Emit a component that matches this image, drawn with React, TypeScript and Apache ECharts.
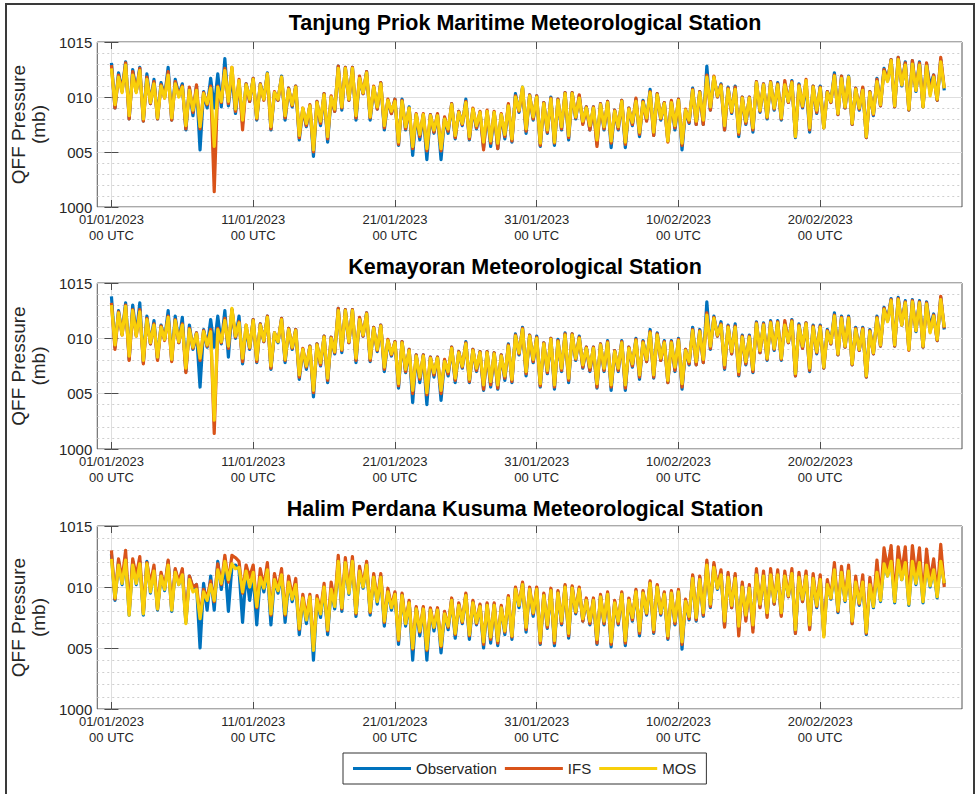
import React, { useEffect, useRef } from "react";
import * as echarts from "echarts";

// ---- data (6-hourly, starting 01/01/2023 00 UTC; 4 values per day) ----
const START_UTC = Date.UTC(2023, 0, 1);
const STEP_DAYS = 0.25;
const TICK_DAYS = [0, 10, 20, 30, 40, 50];
const Y_TICK_LABELS: Record<number, string> = { 1015: "1015", 1010: "010", 1005: "005", 1000: "1000" };
const STATIONS = [
  "Tanjung Priok Maritime Meteorological Station",
  "Kemayoran Meteorological Station",
  "Halim Perdana Kusuma Meteorological Station",
];
const SERIES_NAMES = ["Observation", "IFS", "MOS"];
const COLORS = ["#0072BD", "#D95319", "#F8CF0A"];

const tpObs = [
  1013.1, 1009.0, 1012.2, 1010.6, 1013.2, 1008.0, 1012.5, 1010.5,
  1012.7, 1007.8, 1012.1, 1009.4, 1011.6, 1008.0, 1011.3, 1010.0,
  1012.7, 1007.9, 1011.6, 1010.2, 1011.2, 1007.0, 1010.8, 1008.3,
  1011.0, 1005.2, 1010.5, 1009.0, 1011.7, 1009.0, 1012.1, 1009.1,
  1013.5, 1009.2, 1012.0, 1008.5, 1011.4, 1007.6, 1011.2, 1009.6,
  1011.7, 1007.9, 1011.2, 1009.8, 1012.2, 1007.0, 1010.4, 1009.7,
  1011.9, 1007.9, 1010.8, 1009.1, 1011.0, 1006.1, 1008.9, 1007.3,
  1009.2, 1004.6, 1009.6, 1007.4, 1010.3, 1005.9, 1010.0, 1008.7,
  1012.8, 1008.8, 1012.7, 1009.7, 1012.7, 1007.9, 1011.7, 1010.3,
  1012.3, 1007.9, 1010.9, 1008.9, 1011.3, 1007.0, 1009.7, 1008.5,
  1009.8, 1005.6, 1009.8, 1007.0, 1009.1, 1004.7, 1008.4, 1006.1,
  1008.4, 1004.3, 1008.4, 1006.7, 1008.4, 1004.3, 1008.1, 1006.7,
  1009.4, 1006.2, 1008.7, 1007.4, 1009.8, 1006.1, 1008.9, 1007.1,
  1008.6, 1005.4, 1008.7, 1005.5, 1008.6, 1005.3, 1008.4, 1006.2,
  1009.3, 1005.9, 1010.3, 1008.6, 1010.9, 1006.7, 1010.2, 1007.9,
  1010.1, 1005.5, 1009.5, 1006.7, 1010.0, 1005.6, 1009.8, 1007.0,
  1010.4, 1006.1, 1010.4, 1008.0, 1010.1, 1007.6, 1009.1, 1007.0,
  1009.1, 1005.7, 1009.4, 1007.0, 1009.6, 1005.4, 1008.8, 1007.0,
  1009.7, 1005.4, 1009.0, 1007.4, 1009.8, 1006.4, 1009.7, 1007.9,
  1010.7, 1006.5, 1010.3, 1007.9, 1009.5, 1006.0, 1009.6, 1007.0,
  1009.8, 1005.2, 1008.8, 1007.6, 1010.8, 1007.5, 1010.5, 1007.5,
  1012.8, 1008.8, 1011.8, 1010.0, 1011.2, 1007.0, 1010.9, 1008.5,
  1011.0, 1006.4, 1010.0, 1007.5, 1010.0, 1006.8, 1011.4, 1008.6,
  1011.2, 1008.0, 1011.4, 1008.8, 1011.3, 1007.9, 1011.2, 1009.5,
  1011.5, 1006.3, 1011.2, 1009.0, 1011.2, 1006.8, 1011.0, 1008.5,
  1011.0, 1007.2, 1010.5, 1009.5, 1012.2, 1008.4, 1011.9, 1009.0,
  1011.9, 1007.5, 1010.8, 1008.8, 1010.8, 1006.3, 1010.5, 1008.3,
  1011.7, 1009.2, 1012.6, 1011.5, 1013.4, 1009.1, 1013.6, 1011.0,
  1013.2, 1008.8, 1013.3, 1010.5, 1013.2, 1009.1, 1013.0, 1011.0,
  1012.0, 1009.7, 1013.4, 1010.6,
];
const tpIfs = [
  1012.9, 1009.0, 1012.0, 1010.5, 1013.1, 1008.0, 1012.3, 1010.5,
  1012.6, 1007.8, 1011.8, 1009.4, 1011.4, 1008.0, 1011.1, 1009.9,
  1012.3, 1007.9, 1011.4, 1010.1, 1011.0, 1007.1, 1010.9, 1008.6,
  1011.1, 1007.1, 1010.4, 1009.3, 1011.0, 1001.4, 1011.0, 1009.5,
  1012.6, 1009.4, 1012.7, 1008.7, 1011.6, 1007.0, 1011.2, 1009.6,
  1011.7, 1008.0, 1011.2, 1009.7, 1012.1, 1007.1, 1010.5, 1009.7,
  1011.8, 1008.1, 1010.8, 1009.2, 1011.0, 1006.3, 1009.0, 1007.4,
  1009.3, 1005.0, 1009.6, 1007.6, 1010.3, 1006.2, 1010.1, 1008.7,
  1012.8, 1009.0, 1012.7, 1009.7, 1012.7, 1008.1, 1011.9, 1010.3,
  1012.3, 1008.1, 1011.0, 1008.9, 1011.3, 1007.2, 1009.8, 1008.5,
  1009.8, 1005.7, 1009.7, 1007.1, 1009.0, 1005.3, 1008.5, 1006.4,
  1008.5, 1005.1, 1008.4, 1006.8, 1008.5, 1005.1, 1008.2, 1006.9,
  1009.4, 1006.3, 1008.7, 1007.5, 1009.6, 1006.2, 1009.0, 1007.2,
  1008.7, 1005.2, 1008.8, 1005.8, 1008.7, 1005.3, 1008.5, 1006.4,
  1009.4, 1006.0, 1010.1, 1008.7, 1010.8, 1006.9, 1010.2, 1008.0,
  1010.1, 1005.6, 1009.5, 1006.8, 1009.9, 1005.8, 1009.8, 1007.1,
  1010.4, 1006.3, 1010.4, 1008.1, 1010.2, 1007.5, 1009.1, 1007.0,
  1009.1, 1005.5, 1009.4, 1007.1, 1009.6, 1005.8, 1008.8, 1007.1,
  1009.7, 1005.7, 1009.0, 1007.5, 1009.9, 1006.6, 1009.6, 1007.8,
  1010.5, 1006.5, 1010.3, 1008.0, 1009.5, 1005.9, 1009.7, 1007.2,
  1009.8, 1005.6, 1008.9, 1007.7, 1010.7, 1007.5, 1010.5, 1007.5,
  1012.0, 1008.8, 1011.9, 1010.0, 1011.1, 1007.0, 1010.8, 1008.6,
  1010.9, 1006.6, 1010.0, 1007.6, 1010.0, 1007.0, 1011.4, 1008.7,
  1011.2, 1008.1, 1011.4, 1008.9, 1011.2, 1008.0, 1011.5, 1009.5,
  1011.4, 1006.4, 1011.1, 1009.1, 1011.6, 1007.0, 1011.0, 1008.6,
  1010.9, 1007.2, 1010.5, 1009.5, 1012.0, 1008.4, 1011.9, 1009.0,
  1011.8, 1007.5, 1010.8, 1008.9, 1010.9, 1006.3, 1010.5, 1008.4,
  1011.6, 1009.2, 1012.5, 1011.5, 1013.4, 1009.1, 1013.6, 1011.1,
  1013.1, 1008.8, 1013.3, 1010.6, 1013.1, 1009.1, 1013.1, 1010.3,
  1012.0, 1009.7, 1013.6, 1010.8,
];
const tpMos = [
  1012.6, 1009.3, 1011.8, 1010.4, 1012.9, 1008.3, 1012.0, 1010.4,
  1012.4, 1008.0, 1011.6, 1009.5, 1011.2, 1008.1, 1011.0, 1009.9,
  1012.0, 1008.1, 1011.2, 1010.0, 1010.9, 1007.4, 1010.6, 1008.8,
  1010.6, 1007.3, 1010.3, 1009.4, 1010.8, 1005.5, 1010.9, 1009.6,
  1012.4, 1009.6, 1012.7, 1008.9, 1011.5, 1007.9, 1011.1, 1009.8,
  1011.6, 1008.1, 1011.1, 1009.8, 1012.1, 1007.3, 1010.4, 1009.8,
  1011.8, 1008.3, 1010.7, 1009.3, 1010.9, 1006.5, 1009.0, 1007.6,
  1009.2, 1005.2, 1009.5, 1007.8, 1010.2, 1006.4, 1010.0, 1008.9,
  1012.6, 1009.1, 1012.6, 1009.8, 1012.6, 1008.3, 1011.7, 1010.4,
  1012.2, 1008.2, 1010.9, 1009.1, 1011.2, 1007.4, 1009.7, 1008.7,
  1009.6, 1005.9, 1009.6, 1007.3, 1009.0, 1005.5, 1008.4, 1006.6,
  1008.4, 1005.3, 1008.3, 1007.0, 1008.3, 1005.3, 1008.0, 1007.1,
  1009.3, 1006.5, 1008.6, 1007.6, 1009.5, 1006.4, 1008.9, 1007.4,
  1008.6, 1005.9, 1008.7, 1006.0, 1008.6, 1005.8, 1008.4, 1006.6,
  1009.2, 1006.2, 1010.0, 1008.8, 1010.9, 1007.1, 1010.1, 1008.2,
  1010.0, 1005.8, 1009.4, 1007.0, 1009.8, 1005.9, 1009.7, 1007.3,
  1010.3, 1006.5, 1010.3, 1008.2, 1009.9, 1007.8, 1009.0, 1007.4,
  1009.0, 1006.1, 1009.3, 1007.3, 1009.5, 1006.0, 1008.7, 1007.3,
  1009.6, 1005.9, 1008.9, 1007.7, 1009.6, 1006.8, 1009.5, 1008.1,
  1010.4, 1006.8, 1010.2, 1008.1, 1009.4, 1006.0, 1009.5, 1007.4,
  1009.7, 1005.8, 1008.8, 1007.9, 1010.6, 1007.8, 1010.4, 1007.9,
  1011.8, 1009.1, 1011.8, 1010.1, 1011.0, 1007.4, 1010.7, 1008.7,
  1010.7, 1006.8, 1009.9, 1007.8, 1009.9, 1007.2, 1011.3, 1008.8,
  1011.1, 1008.2, 1011.3, 1009.0, 1011.1, 1008.1, 1011.1, 1009.6,
  1011.3, 1006.4, 1011.0, 1009.2, 1011.5, 1007.2, 1010.9, 1008.8,
  1010.8, 1007.2, 1010.4, 1009.6, 1011.9, 1008.5, 1011.7, 1009.1,
  1011.8, 1007.6, 1010.7, 1009.0, 1010.6, 1006.4, 1010.4, 1008.5,
  1011.4, 1009.3, 1012.3, 1011.4, 1013.3, 1009.2, 1013.4, 1011.1,
  1012.9, 1008.9, 1013.0, 1010.6, 1012.9, 1009.1, 1012.8, 1010.1,
  1011.8, 1009.8, 1013.2, 1010.8,
];

const kmObs = [
  1013.8, 1009.2, 1012.5, 1010.4, 1013.2, 1008.1, 1013.0, 1010.3,
  1013.2, 1007.8, 1012.0, 1009.5, 1011.6, 1008.1, 1011.2, 1009.9,
  1012.5, 1008.0, 1012.0, 1009.6, 1011.9, 1007.0, 1011.2, 1009.0,
  1010.5, 1005.6, 1010.8, 1009.2, 1011.7, 1009.2, 1012.0, 1009.5,
  1012.5, 1008.3, 1012.6, 1010.0, 1012.0, 1007.7, 1011.0, 1009.0,
  1011.7, 1007.8, 1011.3, 1009.7, 1012.0, 1007.2, 1010.5, 1009.6,
  1011.8, 1007.8, 1010.9, 1009.0, 1010.8, 1006.3, 1009.0, 1007.2,
  1009.3, 1004.7, 1009.5, 1007.5, 1010.2, 1006.0, 1010.1, 1008.6,
  1012.7, 1008.7, 1012.6, 1009.6, 1012.6, 1007.8, 1011.8, 1010.2,
  1012.3, 1007.9, 1011.0, 1008.8, 1011.2, 1007.0, 1009.8, 1008.4,
  1009.7, 1005.5, 1009.7, 1006.9, 1009.0, 1004.2, 1008.5, 1006.0,
  1008.5, 1004.0, 1008.3, 1006.5, 1008.3, 1004.4, 1008.0, 1006.6,
  1009.2, 1006.0, 1008.8, 1007.3, 1009.7, 1006.0, 1009.0, 1007.0,
  1008.8, 1005.3, 1008.8, 1005.6, 1008.7, 1005.4, 1008.5, 1006.2,
  1009.5, 1006.0, 1010.4, 1008.5, 1011.0, 1006.6, 1010.3, 1007.8,
  1010.2, 1005.6, 1009.6, 1006.8, 1010.0, 1005.4, 1009.9, 1007.0,
  1010.5, 1006.0, 1010.4, 1008.0, 1010.2, 1007.3, 1009.2, 1007.0,
  1009.2, 1005.5, 1009.5, 1007.0, 1009.8, 1005.3, 1008.9, 1007.0,
  1009.8, 1005.3, 1009.2, 1007.4, 1010.0, 1006.3, 1009.8, 1007.9,
  1010.8, 1006.4, 1010.5, 1008.0, 1009.8, 1006.0, 1009.8, 1007.0,
  1010.0, 1005.4, 1009.0, 1007.6, 1011.0, 1007.6, 1010.8, 1007.8,
  1013.3, 1009.0, 1012.0, 1010.2, 1011.5, 1007.2, 1011.2, 1008.6,
  1011.3, 1006.6, 1010.3, 1007.6, 1010.3, 1006.9, 1011.5, 1008.7,
  1011.4, 1008.0, 1011.6, 1008.9, 1011.6, 1008.0, 1011.4, 1009.6,
  1011.7, 1006.6, 1011.3, 1009.1, 1011.4, 1007.0, 1011.2, 1008.6,
  1011.2, 1007.3, 1010.8, 1009.5, 1012.3, 1008.5, 1012.0, 1009.2,
  1012.0, 1007.6, 1011.0, 1008.9, 1011.0, 1006.5, 1010.8, 1008.6,
  1012.0, 1009.3, 1012.8, 1011.6, 1013.6, 1009.3, 1013.7, 1011.2,
  1013.4, 1009.0, 1013.5, 1010.6, 1013.4, 1009.2, 1013.3, 1011.0,
  1012.2, 1009.8, 1013.7, 1010.8,
];
const kmIfs = [
  1013.2, 1009.0, 1012.4, 1010.3, 1013.0, 1008.0, 1012.6, 1010.2,
  1012.6, 1007.7, 1011.8, 1009.5, 1011.3, 1008.0, 1011.1, 1009.8,
  1012.0, 1007.9, 1011.7, 1009.6, 1011.3, 1006.9, 1010.9, 1009.1,
  1010.5, 1008.0, 1010.7, 1009.3, 1010.8, 1001.4, 1010.9, 1009.6,
  1011.8, 1009.1, 1012.6, 1010.1, 1011.5, 1007.9, 1011.2, 1009.1,
  1011.7, 1007.9, 1011.3, 1009.7, 1012.0, 1007.3, 1010.5, 1009.7,
  1011.8, 1008.0, 1010.9, 1009.1, 1010.8, 1006.5, 1009.1, 1007.4,
  1009.3, 1005.1, 1009.5, 1007.6, 1010.2, 1006.2, 1010.1, 1008.7,
  1012.7, 1008.9, 1012.6, 1009.6, 1012.6, 1008.0, 1011.9, 1010.2,
  1012.3, 1008.0, 1011.0, 1008.9, 1011.2, 1007.2, 1009.9, 1008.5,
  1009.7, 1005.7, 1009.7, 1007.0, 1009.0, 1005.0, 1008.5, 1006.3,
  1008.5, 1004.9, 1008.3, 1006.7, 1008.3, 1005.0, 1008.1, 1006.8,
  1009.2, 1006.2, 1008.8, 1007.4, 1009.6, 1006.1, 1009.0, 1007.1,
  1008.8, 1005.4, 1008.8, 1005.8, 1008.7, 1005.5, 1008.5, 1006.4,
  1009.4, 1006.1, 1010.3, 1008.6, 1010.9, 1006.8, 1010.3, 1007.9,
  1010.1, 1005.7, 1009.6, 1006.9, 1010.0, 1005.6, 1009.8, 1007.1,
  1010.4, 1006.2, 1010.4, 1008.1, 1010.1, 1007.4, 1009.2, 1007.1,
  1009.2, 1005.6, 1009.5, 1007.1, 1009.7, 1005.6, 1008.9, 1007.1,
  1009.7, 1005.5, 1009.2, 1007.5, 1009.9, 1006.5, 1009.7, 1007.9,
  1010.6, 1006.5, 1010.4, 1008.0, 1009.7, 1006.0, 1009.7, 1007.1,
  1009.9, 1005.6, 1009.0, 1007.7, 1010.8, 1007.6, 1010.7, 1007.8,
  1012.3, 1009.1, 1011.9, 1010.2, 1011.3, 1007.3, 1011.1, 1008.6,
  1011.1, 1006.7, 1010.2, 1007.7, 1010.2, 1007.0, 1011.4, 1008.7,
  1011.3, 1008.1, 1011.5, 1009.0, 1011.5, 1008.1, 1011.6, 1009.6,
  1011.6, 1006.6, 1011.2, 1009.1, 1011.4, 1007.1, 1011.1, 1008.7,
  1011.1, 1007.3, 1010.7, 1009.5, 1012.1, 1008.5, 1011.9, 1009.2,
  1011.9, 1007.6, 1010.9, 1008.9, 1010.9, 1006.5, 1010.7, 1008.6,
  1011.9, 1009.3, 1012.7, 1011.6, 1013.5, 1009.3, 1013.6, 1011.2,
  1013.3, 1008.9, 1013.4, 1010.7, 1013.3, 1009.2, 1013.2, 1010.6,
  1012.1, 1009.8, 1013.8, 1010.9,
];
const kmMos = [
  1013.0, 1009.4, 1012.3, 1010.3, 1012.9, 1008.4, 1012.5, 1010.2,
  1012.4, 1008.0, 1011.7, 1009.6, 1011.2, 1008.3, 1011.0, 1009.9,
  1011.9, 1008.1, 1011.6, 1009.7, 1011.2, 1007.3, 1010.8, 1009.2,
  1010.4, 1008.2, 1010.6, 1009.4, 1010.6, 1002.6, 1010.8, 1009.7,
  1011.6, 1009.3, 1012.7, 1010.2, 1011.4, 1008.2, 1011.2, 1009.2,
  1011.6, 1008.1, 1011.2, 1009.8, 1011.9, 1007.5, 1010.5, 1009.7,
  1011.7, 1008.1, 1010.8, 1009.2, 1010.7, 1006.7, 1009.0, 1007.5,
  1009.2, 1005.3, 1009.4, 1007.8, 1010.1, 1006.4, 1010.0, 1008.8,
  1012.5, 1009.0, 1012.5, 1009.7, 1012.5, 1008.2, 1011.7, 1010.3,
  1012.2, 1008.2, 1010.9, 1009.0, 1011.1, 1007.4, 1009.8, 1008.6,
  1009.6, 1005.9, 1009.6, 1007.2, 1008.9, 1005.3, 1008.4, 1006.5,
  1008.4, 1005.1, 1008.2, 1006.9, 1008.2, 1005.3, 1007.9, 1007.0,
  1009.1, 1006.4, 1008.7, 1007.5, 1009.5, 1006.3, 1008.9, 1007.3,
  1008.7, 1005.8, 1008.7, 1006.1, 1008.6, 1005.8, 1008.4, 1006.6,
  1009.3, 1006.3, 1010.2, 1008.7, 1010.8, 1007.0, 1010.2, 1008.1,
  1010.0, 1005.9, 1009.5, 1007.1, 1009.9, 1005.8, 1009.7, 1007.3,
  1010.3, 1006.4, 1010.3, 1008.2, 1010.0, 1007.6, 1009.1, 1007.4,
  1009.1, 1005.9, 1009.4, 1007.3, 1009.6, 1005.8, 1008.8, 1007.3,
  1009.6, 1005.8, 1009.1, 1007.7, 1009.8, 1006.7, 1009.6, 1008.1,
  1010.5, 1006.7, 1010.3, 1008.2, 1009.6, 1006.2, 1009.6, 1007.4,
  1009.8, 1005.9, 1008.9, 1007.9, 1010.7, 1007.9, 1010.6, 1008.1,
  1012.1, 1009.3, 1011.8, 1010.3, 1011.2, 1007.6, 1011.0, 1008.8,
  1011.0, 1007.0, 1010.1, 1007.9, 1010.1, 1007.2, 1011.3, 1008.9,
  1011.2, 1008.2, 1011.4, 1009.1, 1011.4, 1008.2, 1011.2, 1009.7,
  1011.5, 1006.8, 1011.1, 1009.3, 1011.3, 1007.3, 1011.0, 1008.8,
  1011.0, 1007.4, 1010.6, 1009.6, 1012.0, 1008.6, 1011.8, 1009.3,
  1011.8, 1007.7, 1010.8, 1009.0, 1010.8, 1006.6, 1010.6, 1008.7,
  1011.8, 1009.4, 1012.6, 1011.5, 1013.4, 1009.4, 1013.5, 1011.2,
  1013.2, 1009.0, 1013.3, 1010.7, 1013.2, 1009.3, 1013.1, 1010.5,
  1012.0, 1009.9, 1013.5, 1011.0,
];

const hpObs = [
  1012.7, 1008.9, 1012.1, 1010.2, 1012.4, 1007.7, 1012.1, 1010.2,
  1012.1, 1007.7, 1012.1, 1009.5, 1011.5, 1008.1, 1011.0, 1009.7,
  1012.1, 1008.0, 1011.4, 1010.2, 1011.3, 1007.1, 1010.9, 1009.9,
  1010.2, 1005.0, 1010.3, 1008.1, 1010.9, 1008.1, 1012.1, 1009.8,
  1012.0, 1008.0, 1011.7, 1011.8, 1011.4, 1007.1, 1011.2, 1008.9,
  1011.0, 1006.9, 1010.8, 1009.6, 1011.4, 1006.9, 1010.6, 1009.5,
  1011.0, 1007.1, 1010.4, 1008.8, 1010.2, 1006.1, 1009.1, 1007.0,
  1009.2, 1004.0, 1009.0, 1007.5, 1010.0, 1006.1, 1009.8, 1008.2,
  1012.2, 1008.0, 1012.0, 1009.4, 1012.2, 1007.6, 1011.4, 1009.9,
  1011.9, 1007.7, 1010.9, 1008.6, 1010.9, 1006.8, 1009.7, 1008.1,
  1009.5, 1005.3, 1009.4, 1006.8, 1008.8, 1004.0, 1008.3, 1006.0,
  1008.3, 1004.0, 1008.2, 1006.4, 1008.2, 1004.6, 1007.9, 1006.5,
  1009.0, 1005.8, 1008.6, 1007.0, 1009.4, 1005.7, 1008.8, 1006.9,
  1008.5, 1005.0, 1008.6, 1005.4, 1008.6, 1005.2, 1008.4, 1006.1,
  1009.2, 1005.7, 1009.9, 1008.3, 1010.3, 1006.3, 1009.9, 1007.6,
  1009.9, 1005.3, 1009.4, 1006.6, 1009.8, 1005.2, 1009.6, 1006.9,
  1010.1, 1005.8, 1010.0, 1007.8, 1009.9, 1007.2, 1009.0, 1006.9,
  1009.0, 1005.3, 1009.3, 1006.9, 1009.5, 1005.1, 1008.8, 1006.9,
  1009.5, 1005.2, 1009.0, 1007.2, 1009.7, 1006.0, 1009.6, 1007.7,
  1010.4, 1006.2, 1010.1, 1007.7, 1009.5, 1005.7, 1009.6, 1006.9,
  1009.7, 1004.9, 1008.9, 1007.3, 1010.9, 1007.2, 1010.8, 1007.6,
  1012.0, 1008.3, 1011.8, 1009.8, 1011.2, 1006.8, 1011.0, 1008.3,
  1010.9, 1006.4, 1010.2, 1007.4, 1010.0, 1006.6, 1011.2, 1008.4,
  1011.0, 1007.7, 1011.2, 1008.6, 1011.1, 1007.7, 1011.0, 1009.2,
  1011.2, 1006.2, 1010.9, 1008.8, 1011.0, 1006.6, 1010.8, 1008.3,
  1010.7, 1006.1, 1010.3, 1009.0, 1011.6, 1007.9, 1011.3, 1008.8,
  1011.4, 1007.0, 1010.5, 1008.5, 1010.5, 1006.1, 1010.3, 1008.3,
  1011.3, 1008.8, 1012.0, 1010.9, 1012.3, 1008.7, 1012.4, 1010.6,
  1012.2, 1008.5, 1012.3, 1010.2, 1012.2, 1008.7, 1012.0, 1010.0,
  1011.5, 1009.1, 1012.4, 1010.2,
];
const hpIfs = [
  1013.0, 1009.0, 1012.3, 1010.6, 1013.0, 1008.0, 1012.3, 1010.9,
  1012.5, 1007.9, 1012.0, 1010.2, 1011.8, 1008.2, 1011.2, 1009.9,
  1012.2, 1008.2, 1011.5, 1010.4, 1011.5, 1007.3, 1010.9, 1010.0,
  1010.2, 1007.6, 1009.8, 1009.1, 1010.5, 1008.8, 1011.9, 1010.2,
  1012.6, 1010.4, 1012.6, 1012.4, 1012.1, 1009.5, 1011.8, 1010.8,
  1011.8, 1008.3, 1011.5, 1010.0, 1012.0, 1007.7, 1011.1, 1009.8,
  1011.5, 1007.7, 1010.9, 1009.2, 1010.7, 1006.5, 1009.4, 1007.5,
  1009.4, 1005.0, 1009.3, 1008.0, 1010.3, 1006.4, 1010.4, 1008.6,
  1012.6, 1008.2, 1012.4, 1009.7, 1012.5, 1007.8, 1011.7, 1010.1,
  1012.1, 1007.9, 1011.1, 1008.9, 1011.1, 1007.1, 1009.9, 1008.4,
  1009.6, 1005.6, 1009.5, 1007.0, 1008.9, 1004.9, 1008.4, 1006.3,
  1008.4, 1004.8, 1008.3, 1006.7, 1008.3, 1005.1, 1008.0, 1006.7,
  1009.1, 1006.1, 1008.7, 1007.1, 1009.5, 1006.0, 1008.9, 1007.0,
  1008.6, 1005.3, 1008.7, 1005.7, 1008.7, 1005.4, 1008.5, 1006.3,
  1009.3, 1005.9, 1010.0, 1008.5, 1010.4, 1006.5, 1010.0, 1007.8,
  1010.0, 1005.4, 1009.5, 1006.7, 1009.9, 1005.4, 1009.7, 1007.0,
  1010.2, 1006.0, 1010.1, 1007.9, 1010.0, 1007.2, 1009.1, 1007.0,
  1009.1, 1005.4, 1009.4, 1007.0, 1009.6, 1005.3, 1008.9, 1007.0,
  1009.6, 1005.4, 1009.1, 1007.3, 1009.8, 1006.2, 1009.7, 1007.8,
  1010.5, 1006.3, 1010.2, 1007.8, 1009.6, 1005.8, 1009.7, 1007.0,
  1009.8, 1005.3, 1009.0, 1007.4, 1011.0, 1007.3, 1010.9, 1007.7,
  1012.2, 1008.4, 1012.0, 1009.9, 1011.4, 1006.7, 1011.2, 1008.3,
  1011.1, 1006.0, 1010.4, 1007.2, 1010.2, 1006.3, 1011.5, 1008.3,
  1011.3, 1007.5, 1011.5, 1008.6, 1011.4, 1007.6, 1011.3, 1009.2,
  1011.5, 1006.2, 1011.2, 1008.8, 1011.3, 1006.5, 1011.1, 1008.4,
  1011.0, 1006.0, 1010.6, 1009.1, 1012.0, 1008.0, 1011.7, 1008.9,
  1011.8, 1007.0, 1010.9, 1008.6, 1011.0, 1006.2, 1010.8, 1008.5,
  1012.2, 1009.0, 1013.2, 1011.5, 1013.4, 1009.0, 1013.3, 1011.2,
  1013.3, 1008.8, 1013.4, 1010.8, 1013.2, 1009.0, 1013.1, 1010.5,
  1012.3, 1009.4, 1013.5, 1010.0,
];
const hpMos = [
  1012.3, 1009.1, 1011.8, 1010.3, 1012.2, 1007.7, 1011.8, 1010.3,
  1011.9, 1007.8, 1011.9, 1009.6, 1011.3, 1008.2, 1010.9, 1009.8,
  1011.8, 1008.1, 1011.2, 1010.2, 1011.0, 1007.0, 1010.6, 1009.6,
  1009.8, 1007.4, 1009.6, 1008.9, 1010.2, 1008.9, 1011.4, 1010.3,
  1012.1, 1010.6, 1011.9, 1011.5, 1011.6, 1009.6, 1011.3, 1010.0,
  1011.2, 1008.4, 1010.8, 1009.9, 1011.4, 1007.8, 1010.6, 1009.7,
  1011.0, 1007.8, 1010.4, 1009.0, 1010.2, 1006.6, 1009.1, 1007.3,
  1009.2, 1004.8, 1009.0, 1007.8, 1010.0, 1006.5, 1009.8, 1008.4,
  1012.1, 1008.3, 1012.0, 1009.5, 1012.1, 1007.9, 1011.3, 1010.0,
  1011.8, 1008.0, 1010.8, 1008.8, 1010.8, 1007.2, 1009.6, 1008.3,
  1009.4, 1005.7, 1009.3, 1007.0, 1008.7, 1005.0, 1008.2, 1006.4,
  1008.2, 1004.9, 1008.1, 1006.7, 1008.1, 1005.2, 1007.8, 1006.8,
  1008.9, 1006.2, 1008.5, 1007.2, 1009.3, 1006.1, 1008.7, 1007.1,
  1008.4, 1005.5, 1008.5, 1005.9, 1008.5, 1005.6, 1008.3, 1006.4,
  1009.1, 1006.0, 1009.8, 1008.5, 1010.2, 1006.7, 1009.8, 1007.9,
  1009.8, 1005.6, 1009.3, 1006.9, 1009.7, 1005.6, 1009.5, 1007.2,
  1010.0, 1006.2, 1009.9, 1008.0, 1009.8, 1007.4, 1008.9, 1007.2,
  1008.9, 1005.7, 1009.2, 1007.2, 1009.4, 1005.5, 1008.7, 1007.2,
  1009.4, 1005.6, 1008.9, 1007.5, 1009.6, 1006.4, 1009.5, 1007.9,
  1010.3, 1006.5, 1010.0, 1007.9, 1009.4, 1006.0, 1009.5, 1007.2,
  1009.6, 1005.5, 1008.8, 1007.6, 1010.7, 1007.5, 1010.6, 1007.9,
  1011.8, 1008.6, 1011.6, 1009.9, 1011.0, 1007.2, 1010.8, 1008.5,
  1010.7, 1006.8, 1010.0, 1007.7, 1009.9, 1006.9, 1011.0, 1008.6,
  1010.9, 1007.9, 1011.0, 1008.8, 1011.0, 1007.9, 1010.9, 1009.3,
  1011.1, 1006.5, 1010.8, 1009.0, 1010.9, 1006.9, 1010.7, 1008.5,
  1010.6, 1005.9, 1010.2, 1009.1, 1011.4, 1008.1, 1011.2, 1008.9,
  1011.3, 1007.2, 1010.4, 1008.7, 1010.4, 1006.3, 1010.2, 1008.4,
  1011.2, 1008.9, 1011.9, 1010.9, 1012.1, 1008.8, 1012.2, 1010.6,
  1012.0, 1008.6, 1012.1, 1010.3, 1012.0, 1008.8, 1011.8, 1010.1,
  1011.4, 1009.2, 1012.1, 1010.3,
];

const PANEL_DATA = [
  [tpObs, tpIfs, tpMos],
  [kmObs, kmIfs, kmMos],
  [hpObs, hpIfs, hpMos],
];

// ---- layout ----
const FONT = "'Liberation Sans', Arial, Helvetica, sans-serif";
const TEXT = "#262626";
const GRIDS = [
  { top: 42, height: 165, titleTop: 12 },
  { top: 283, height: 166, titleTop: 256 },
  { top: 526, height: 183, titleTop: 498 },
];
const X_MIN = -1;
const X_MAX = 60;

const fmtDay = (d: number) => {
  const t = new Date(START_UTC + Math.round(d) * 86400000);
  const dd = String(t.getUTCDate()).padStart(2, "0");
  const mm = String(t.getUTCMonth() + 1).padStart(2, "0");
  return `${dd}/${mm}/${t.getUTCFullYear()}\n00 UTC`;
};

const toPoints = (vals: number[]) => vals.map((v, i) => [i * STEP_DAYS, v]);

function buildOption(): any {
  const grid: any[] = [];
  const xAxis: any[] = [];
  const yAxis: any[] = [];
  const series: any[] = [];
  const title: any[] = [];

  GRIDS.forEach((g, i) => {
    grid.push({
      left: 95,
      right: 14,
      top: g.top,
      height: g.height,
      show: true,
      borderColor: "#555555",
      borderWidth: 1,
      backgroundColor: "#ffffff",
    });
    title.push({
      text: STATIONS[i],
      left: 525,
      top: g.titleTop,
      textAlign: "center",
      padding: 0,
      textStyle: { fontSize: 21.5, fontWeight: "bold", color: "#000", fontFamily: FONT },
    });
    xAxis.push({
      type: "value",
      gridIndex: i,
      position: "bottom",
      min: X_MIN,
      max: X_MAX,
      axisLine: { show: false },
      axisTick: { show: true, inside: true, length: 7, customValues: TICK_DAYS, lineStyle: { color: "#4d4d4d" } },
      axisLabel: {
        customValues: TICK_DAYS,
        formatter: fmtDay,
        fontSize: 13,
        lineHeight: 16,
        color: TEXT,
        margin: 4,
        fontFamily: FONT,
      },
      splitLine: { show: true, lineStyle: { color: "#dedede", width: 1 } },
    });
    yAxis.push({
      type: "value",
      gridIndex: i,
      position: "left",
      min: 1000,
      max: 1015,
      interval: 5,
      name: "QFF Pressure\n(mb)",
      nameLocation: "middle",
      nameGap: 31,
      nameRotate: 90,
      nameTextStyle: { fontSize: 19, lineHeight: 20, color: TEXT, fontFamily: FONT },
      axisLine: { show: false },
      axisTick: { show: true, inside: true, length: 7, lineStyle: { color: "#4d4d4d" } },
      axisLabel: {
        formatter: (v: number) => Y_TICK_LABELS[v] ?? "",
        fontSize: 15,
        color: TEXT,
        margin: 5,
        fontFamily: FONT,
      },
      splitLine: { show: true, lineStyle: { color: "#dedede", width: 1 } },
      minorTick: { show: false, splitNumber: 5 },
      minorSplitLine: { show: true, lineStyle: { color: "#cfcfcf", width: 1, type: [2, 3] } },
    });
  });
  GRIDS.forEach((_g, i) => {
    xAxis.push({
      type: "value",
      gridIndex: i,
      position: "top",
      min: X_MIN,
      max: X_MAX,
      axisLine: { show: false },
      axisTick: { show: true, inside: true, length: 7, customValues: TICK_DAYS, lineStyle: { color: "#4d4d4d" } },
      axisLabel: { show: false },
      splitLine: { show: false },
    });
    yAxis.push({
      type: "value",
      gridIndex: i,
      position: "right",
      min: 1000,
      max: 1015,
      interval: 5,
      axisLine: { show: false },
      axisTick: { show: true, inside: true, length: 7, lineStyle: { color: "#4d4d4d" } },
      axisLabel: { show: false },
      splitLine: { show: false },
    });
  });

  PANEL_DATA.forEach((set, i) => {
    set.forEach((vals, k) => {
      series.push({
        type: "line",
        name: SERIES_NAMES[k],
        xAxisIndex: i,
        yAxisIndex: i,
        data: toPoints(vals),
        showSymbol: false,
        symbol: "none",
        lineStyle: { color: COLORS[k], width: 3.2, join: "round" },
        itemStyle: { color: COLORS[k] },
        z: 2 + k,
      });
    });
  });

  return {
    animation: false,
    backgroundColor: "#ffffff",
    textStyle: { fontFamily: FONT },
    title,
    grid,
    xAxis,
    yAxis,
    series,
    legend: {
      data: SERIES_NAMES,
      left: 343,
      top: 753,
      orient: "horizontal",
      icon: "rect",
      itemWidth: 58,
      itemHeight: 3,
      itemGap: 8,
      padding: [8, 10],
      borderColor: "#333333",
      borderWidth: 1,
      backgroundColor: "#ffffff",
      selectedMode: false,
      textStyle: { fontSize: 15, color: TEXT, fontFamily: FONT },
    },
    graphic: [
      {
        type: "rect",
        shape: { x: 6, y: 4, width: 968, height: 800 },
        style: { fill: "none", stroke: "#3a3a3a", lineWidth: 2 },
        silent: true,
        z: 100,
      },
    ],
  };
}

export default function App() {
  const ref = useRef<HTMLDivElement>(null);
  useEffect(() => {
    if (!ref.current) return;
    const chart = echarts.init(ref.current, undefined, { renderer: "svg" });
    chart.setOption(buildOption());
    return () => chart.dispose();
  }, []);
  return (
    <div
      ref={ref}
      style={{ position: "fixed", left: 0, top: 0, width: 976, height: 794, background: "#ffffff" }}
    />
  );
}
